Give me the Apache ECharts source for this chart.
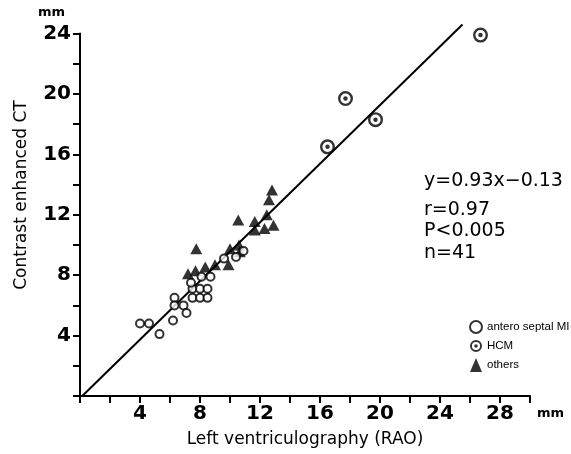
<!DOCTYPE html>
<html><head><meta charset="utf-8">
<script src="https://cdn.jsdelivr.net/npm/echarts@6/dist/echarts.min.js"></script>
<style>html,body{margin:0;padding:0;background:#fff}#c{width:571px;height:454px}</style>
</head><body><div id="c"></div>
<script>
var anteroSeptalMI = [
  [4.0,4.8],[4.6,4.8],[5.3,4.1],[6.2,5.0],[6.3,6.5],[6.3,6.0],[6.9,6.0],[7.1,5.5],
  [7.5,7.1],[7.5,6.5],[8.0,6.5],[8.5,6.5],[8.0,7.1],[8.5,7.1],[8.1,7.9],[8.7,7.9],
  [7.4,7.5],[9.6,9.1],[10.4,9.2],[10.9,9.6]
];
var hcm = [[16.5,16.5],[17.7,19.7],[19.7,18.3],[26.7,23.9]];
var others = [
  [7.2,8.1],[7.7,8.3],[7.75,9.75],[8.35,8.55],[9.0,8.7],[9.9,8.7],[10.0,9.75],[10.6,10.0],
  [10.65,9.55],[10.55,11.65],[11.65,11.0],[11.65,11.55],[12.3,11.1],[12.9,11.3],
  [12.45,12.0],[12.6,13.0],[12.8,13.65]
];
var regressionLine = [[0.15,0],[25.5,24.6]];
var xTickLabels = [4,8,12,16,20,24,28];
var yTickLabels = [4,8,12,16,20,24];
var statsText = ['y=0.93x\u22120.13','r=0.97','P<0.005','n=41'];

var FONT = 'DejaVu Sans';
var LFONT = '"Liberation Sans",sans-serif';
var hcmPath = 'path://M10 0 A10 10 0 1 1 10 20 A10 10 0 1 1 10 0 Z M10 3.2 A6.8 6.8 0 1 0 10 16.8 A6.8 6.8 0 1 0 10 3.2 Z M10 7 A3 3 0 1 1 10 13 A3 3 0 1 1 10 7 Z';

var chart = echarts.init(document.getElementById('c'), null, {renderer:'canvas'});
var axisCommon = {
  type:'value', interval:2,
  axisLine:{show:true, lineStyle:{color:'#000', width:2}},
  axisTick:{show:true, length:7, lineStyle:{color:'#000', width:2}},
  splitLine:{show:false},
  nameTextStyle:{color:'#000', fontFamily:FONT, fontSize:17}
};
chart.setOption({
  animation:false,
  backgroundColor:'#fff',
  grid:{left:80, right:41, top:33.6, bottom:58, containLabel:false},
  xAxis: Object.assign({}, axisCommon, {
    min:0, max:30,
    name:'Left ventriculography (RAO)', nameLocation:'middle', nameGap:35,
    axisLabel:{color:'#000', fontFamily:FONT, fontSize:20, fontWeight:'bold', margin:8,
      formatter:function(v){return xTickLabels.indexOf(v)>=0 ? String(v) : '';}}
  }),
  yAxis: Object.assign({}, axisCommon, {
    min:0, max:24,
    axisLabel:{color:'#000', fontFamily:FONT, fontSize:20, fontWeight:'bold', margin:9,
      formatter:function(v){return yTickLabels.indexOf(v)>=0 ? String(v) : '';}}
  }),
  legend:{
    orient:'vertical', left:469, top:320, padding:0, itemGap:6, itemWidth:12, itemHeight:14,
    textStyle:{color:'#000', fontFamily:LFONT, fontSize:11.5},
    data:['antero septal MI\u00b7','HCM','others']
  },
  series:[
    {type:'line', data:regressionLine, symbol:'none', clip:false, lineStyle:{color:'#000', width:2}, silent:true, z:1},
    {name:'antero septal MI\u00b7', type:'scatter', data:anteroSeptalMI, symbol:'circle', symbolSize:8,
      itemStyle:{color:'#fff', borderColor:'#000', borderWidth:2}, z:3},
    {name:'HCM', type:'scatter', data:hcm, symbol:hcmPath, symbolSize:15,
      itemStyle:{color:'#000'}, z:3},
    {name:'others', type:'scatter', data:others, symbol:'triangle', symbolSize:[12,11],
      itemStyle:{color:'#000'}, z:2}
  ],
  graphic:[
    {type:'text', x:22, y:195, rotation:Math.PI/2,
      style:{text:'Contrast enhanced CT', fill:'#000', font:'17px '+FONT, align:'center', verticalAlign:'middle'}},
    {type:'text', left:38, top:6, style:{text:'mm', fill:'#000', font:'bold 13px '+FONT}},
    {type:'text', left:537, top:407, style:{text:'mm', fill:'#000', font:'bold 13px '+FONT}},
    {type:'text', left:424, top:172, style:{text:statsText[0], fill:'#000', font:'19px '+FONT}},
    {type:'text', left:424, top:201, style:{text:statsText[1], fill:'#000', font:'19px '+FONT}},
    {type:'text', left:424, top:222, style:{text:statsText[2], fill:'#000', font:'19px '+FONT}},
    {type:'text', left:424, top:244, style:{text:statsText[3], fill:'#000', font:'19px '+FONT}}
  ]
});
</script></body></html>
